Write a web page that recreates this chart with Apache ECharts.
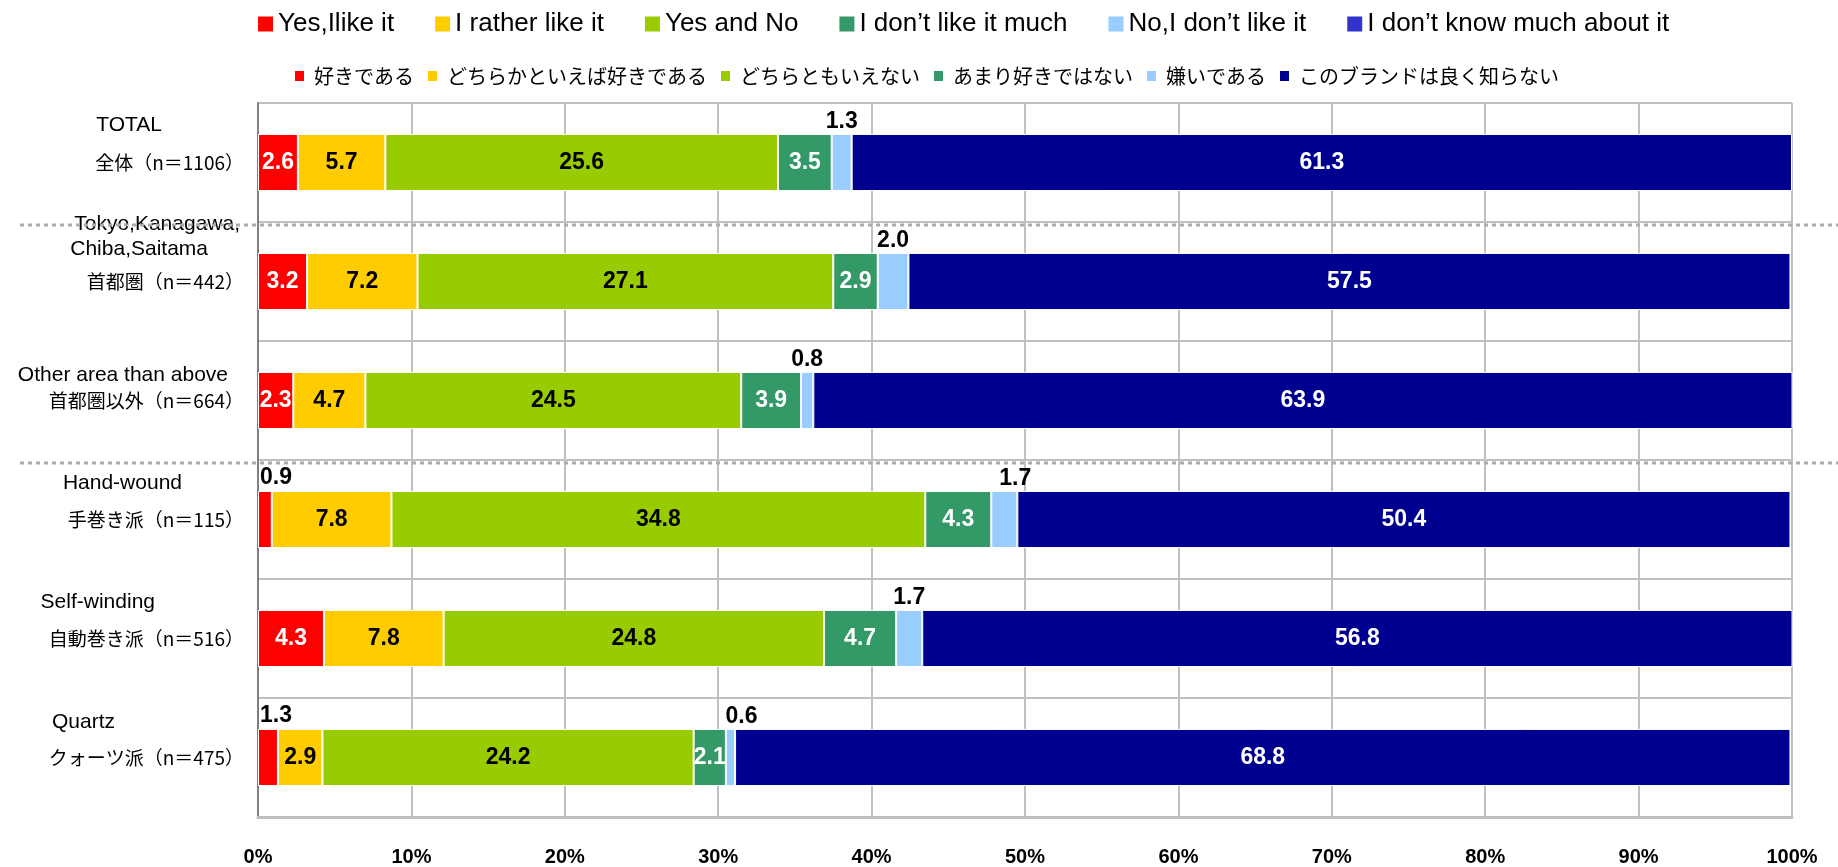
<!DOCTYPE html>
<html>
<head>
<meta charset="utf-8">
<script src="https://cdn.jsdelivr.net/npm/echarts@6/dist/echarts.min.js"></script>
<style>
	html, body { margin: 0; padding: 0; background: #fff; }
	#chart { width: 1838px; height: 867px; }
</style>
</head>
<body>
<div id="chart"></div>
<script>
// カテゴリ（上から順）
var categories = ['全体（n＝1106）', '首都圏（n＝442）', '首都圏以外（n＝664）', '手巻き派（n＝115）', '自動巻き派（n＝516）', 'クォーツ派（n＝475）'];
var categoriesEn = [['TOTAL'], ['Tokyo,Kanagawa,', 'Chiba,Saitama'], ['Other area than above'], ['Hand-wound'], ['Self-winding'], ['Quartz']];

var namesJa = ['好きである', 'どちらかといえば好きである', 'どちらともいえない', 'あまり好きではない', '嫌いである', 'このブランドは良く知らない'];
var namesEn = ['Yes,Ilike it', 'I rather like it', 'Yes and No', 'I don\u2019t like it much', 'No,I don\u2019t like it', 'I don\u2019t know much about it'];

var likeIt     = [2.6, 3.2, 2.3, 0.9, 4.3, 1.3];
var ratherLike = [5.7, 7.2, 4.7, 7.8, 7.8, 2.9];
var yesAndNo   = [25.6, 27.1, 24.5, 34.8, 24.8, 24.2];
var notMuch    = [3.5, 2.9, 3.9, 4.3, 4.7, 2.1];
var dislike    = [1.3, 2.0, 0.8, 1.7, 1.7, 0.6];
var dontKnow   = [61.3, 57.5, 63.9, 50.4, 56.8, 68.8];

var xTicks = [0, 10, 20, 30, 40, 50, 60, 70, 80, 90, 100];

// 見た目の設定
var colors = ['#FF0000', '#FFCC00', '#99CC00', '#339966', '#99CCFF', '#000090'];
var legendEnColors = ['#FF0000', '#FFCC00', '#99CC00', '#339966', '#99CCFF', '#3333CC'];
var labelColors = ['#fff', '#000', '#000', '#fff', '#000', '#fff'];
// y軸ラベルの英語行：行の高さ、右の余白
var yLab = [
	{ le: 37, lj: 37, pads: [82] },
	{ le: 25, lj: 40, pads: [4, 36] },
	{ le: 25, lj: 25, pads: [16] },
	{ le: 36, lj: 36, pads: [62] },
	{ le: 36, lj: 36, pads: [89] },
	{ le: 35, lj: 35, pads: [129] }
];
var outsideNudge = { 3: 11, 5: 11 };

var fontEn = "'Liberation Sans', Arial, sans-serif";
var fontJa = "'Noto Sans CJK JP', sans-serif";

var rich = {};
yLab.forEach(function (c, i) {
	c.pads.forEach(function (p, k) {
		rich['e' + i + '_' + k] = { fontFamily: fontEn, fontSize: 21, color: '#000', lineHeight: c.le, padding: [0, p, 0, 0] };
	});
	rich['j' + i] = { fontFamily: fontJa, fontSize: 19, color: '#000', lineHeight: c.lj };
	rich['b' + i] = { fontSize: 10, lineHeight: c.le };
});

function yFormatter(value, index) {
	var lines = categoriesEn[index].map(function (t, k) { return '{e' + index + '_' + k + '|' + t + '}'; });
	lines.push('{j' + index + '|' + value + '}');
	categoriesEn[index].forEach(function () { lines.push('{b' + index + '|\u00a0}'); });
	return lines.join('\n');
}

var values = [likeIt, ratherLike, yesAndNo, notMuch, dislike, dontKnow];

function buildData(s) {
	return values[s].map(function (v, i) {
		var item = { value: v };
		if (s === 0 && v < 2) {
			item.label = { position: [2, -25], color: '#000' };
		}
		if (s === 4) {
			item.label = { position: 'top', distance: 1, color: '#000', offset: [outsideNudge[i] || 0, 0] };
		}
		return item;
	});
}

var series = namesJa.map(function (n, s) {
	return {
		name: n,
		type: 'bar',
		stack: 'total',
		barWidth: '48%',
		itemStyle: { color: colors[s], borderColor: '#fff', borderWidth: 1 },
		label: {
			show: true,
			position: 'inside',
			color: labelColors[s],
			fontFamily: fontEn,
			fontWeight: 'bold',
			fontSize: 23,
			formatter: function (p) { return p.value.toFixed(1); }
		},
		data: buildData(s)
	};
});
// 英語の凡例用（データなし）
namesEn.forEach(function (n, s) {
	series.push({ name: n, type: 'bar', stack: 'total', itemStyle: { color: legendEnColors[s] }, data: [] });
});

var chart = echarts.init(document.getElementById('chart'));
chart.setOption({
	animation: false,
	legend: [
		{
			data: namesEn,
			left: 253,
			top: 6,
			icon: 'rect',
			itemWidth: 15,
			itemHeight: 15,
			itemGap: 41,
			selectedMode: false,
			textStyle: { fontFamily: fontEn, fontSize: 26, color: '#000' }
		},
		{
			data: namesJa,
			left: 288,
			top: 61,
			icon: 'rect',
			itemWidth: 11,
			itemHeight: 12,
			itemGap: 12,
			selectedMode: false,
			textStyle: { fontFamily: fontJa, fontSize: 20, color: '#000', padding: [0, 0, 0, 4] }
		}
	],
	grid: { left: 258, right: 46, top: 103, bottom: 50, containLabel: false },
	xAxis: {
		type: 'value',
		min: xTicks[0],
		max: xTicks[xTicks.length - 1],
		interval: xTicks[1] - xTicks[0],
		axisLine: { show: true, lineStyle: { color: '#BFBFBF', width: 3 } },
		axisTick: { show: false },
		splitLine: { show: true, lineStyle: { color: '#C0C0C0', width: 2 } },
		axisLabel: {
			margin: 30,
			color: '#000',
			fontFamily: fontEn,
			fontWeight: 'bold',
			fontSize: 20,
			formatter: '{value}%'
		}
	},
	yAxis: {
		type: 'category',
		inverse: true,
		data: categories,
		axisLine: { lineStyle: { color: '#808080', width: 2 } },
		axisTick: { inside: true, length: 9, lineStyle: { color: '#808080', width: 2 } },
		splitLine: { show: true, lineStyle: { color: '#C0C0C0', width: 2 } },
		axisLabel: { margin: 14, formatter: yFormatter, rich: rich }
	},
	series: series
});

// 点線の区切り（全体の後と首都圏以外の後）
var sepAfter = [0, 2];
var graphics = sepAfter.map(function (i) {
	var y0 = chart.convertToPixel({ yAxisIndex: 0 }, categories[i]);
	var y1 = chart.convertToPixel({ yAxisIndex: 0 }, categories[i + 1]);
	var y = (y0 + y1) / 2 + 3;
	return {
		type: 'line',
		z: 10,
		shape: { x1: 20, y1: y, x2: 1838, y2: y },
		style: { stroke: '#ABABAB', lineWidth: 3, lineDash: [4, 4] }
	};
});
chart.setOption({ graphic: graphics });
</script>
</body>
</html>
